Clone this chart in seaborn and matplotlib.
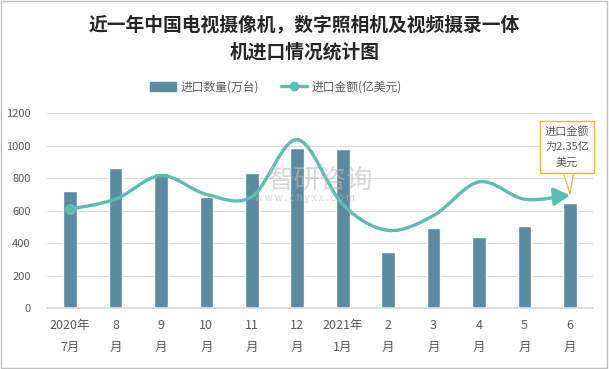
import numpy as np
import pandas as pd
import matplotlib.pyplot as plt
from matplotlib.path import Path
from matplotlib.patches import FancyArrowPatch, Patch, Rectangle
from matplotlib.lines import Line2D
import seaborn as sns

sns.set_theme(style="white")
plt.rcParams['font.family'] = ['Noto Sans CJK SC', 'DejaVu Sans']

# datos
months = ["2020年\n7月", "8\n月", "9\n月", "10\n月", "11\n月", "12\n月",
          "2021年\n1月", "2\n月", "3\n月", "4\n月", "5\n月", "6\n月"]
qty = [720, 862, 831, 685, 833, 985, 978, 345, 494, 439, 505, 646]        # 万台
amount = [2.06, 2.27, 2.76, 2.37, 2.32, 3.51, 2.16, 1.62, 1.93, 2.63, 2.27, 2.35]  # 亿美元

bar_color = '#5A8BA2'
line_color = '#5BBDB1'
text_gray = '#595959'
gold = '#F2B80F'

df = pd.DataFrame({'mes': months, 'cantidad': qty, 'monto': amount})

fig = plt.figure(figsize=(6.09, 3.69), dpi=100)
ax = fig.add_axes([47.3 / 609, 61 / 369, 545.4 / 609, 194.7 / 369])

sns.barplot(data=df, x='mes', y='cantidad', color=bar_color, width=0.3,
            saturation=1, ax=ax)
ax.set_xlim(-0.5, len(months) - 0.5)
ax.set_ylim(0, 1200)
ax.set_yticks(range(0, 1201, 200))
ax.set_xlabel('')
ax.set_ylabel('')
ax.yaxis.grid(True, color='#D9D9D9', linewidth=0.8)
ax.set_axisbelow(True)
for s in ['left', 'right', 'top']:
    ax.spines[s].set_visible(False)
ax.spines['bottom'].set_color('#D9D9D9')
ax.tick_params(axis='y', labelsize=8, labelcolor=text_gray, length=0, pad=12)
ax.tick_params(axis='x', labelsize=9, labelcolor=text_gray, length=0, pad=8)
for lbl in ax.get_xticklabels():
    lbl.set_linespacing(1.9)

# eje secundario (oculto) para el monto
ax2 = ax.twinx()
ax2.set_ylim(0, 4.06)
ax2.set_yticks([])
for s in ax2.spines.values():
    s.set_visible(False)

# curva suavizada (catmull-rom -> bezier)
xs = np.arange(len(amount))
ys = np.array(amount)
n = len(xs)
verts = [(xs[0], ys[0])]
codes = [Path.MOVETO]
for i in range(n - 1):
    a, b = max(i - 1, 0), min(i + 2, n - 1)
    c1 = (xs[i] + (xs[i + 1] - xs[a]) / 6, ys[i] + (ys[i + 1] - ys[a]) / 6)
    c2 = (xs[i + 1] - (xs[b] - xs[i]) / 6, ys[i + 1] - (ys[b] - ys[i]) / 6)
    verts += [c1, c2, (xs[i + 1], ys[i + 1])]
    codes += [Path.CURVE4] * 3
curve = FancyArrowPatch(path=Path(verts, codes), arrowstyle='-|>,head_length=0.8,head_width=0.45',
                        mutation_scale=12, color=line_color, linewidth=2.4,
                        transform=ax2.transData)
ax2.add_patch(curve)
ax2.plot([xs[0]], [ys[0]], 'o', color=line_color, markersize=7)

# nota del ultimo punto
ax2.annotate('进口金额\n为2.35亿\n美元', xy=(xs[-1], ys[-1]),
             xytext=(567 / 609, 1 - 147 / 369), textcoords='figure fraction',
             ha='center', va='center', fontsize=8, color=text_gray, linespacing=1.6,
             bbox=dict(boxstyle='square,pad=0.45', fc='white', ec=gold, lw=1),
             arrowprops=dict(arrowstyle='wedge,tail_width=0.9,shrink_factor=0.5',
                             fc='white', ec=gold, lw=0.8, shrinkA=0, shrinkB=1))

# marca de agua
fig.text(321 / 609, 1 - 180 / 369, '智研咨询', ha='center', va='center',
         fontsize=19, color='#BBBBBB', alpha=0.6)
fig.text(305 / 609, 1 - 198 / 369, 'w w w . c h y x x . c o m', ha='center', va='center',
         fontsize=7, color='#BBBBBB', alpha=0.6)

# titulo
fig.text(0.5, 1 - 25 / 369, '近一年中国电视摄像机，数字照相机及视频摄录一体',
         ha='center', va='center', fontsize=13.5, fontweight='bold', color='#262626')
fig.text(0.5, 1 - 52 / 369, '机进口情况统计图',
         ha='center', va='center', fontsize=13.5, fontweight='bold', color='#262626')

handles = [Patch(color=bar_color),
           Line2D([0], [0], color=line_color, lw=2.4, marker='o', markersize=6)]
fig.legend(handles, ['进口数量(万台)', '进口金额(亿美元)'], loc='center',
           bbox_to_anchor=(276 / 609, 1 - 87 / 369), ncol=2, frameon=False, fontsize=8.5,
           labelcolor=text_gray, handlelength=2.2, columnspacing=1.8, handletextpad=0.4)

# borde de la figura
fig.patches.append(Rectangle((0.002, 0.003), 0.994, 0.993, transform=fig.transFigure,
                             fill=False, ec='#BFBFBF', lw=1))

plt.savefig('out.png', dpi=100)
